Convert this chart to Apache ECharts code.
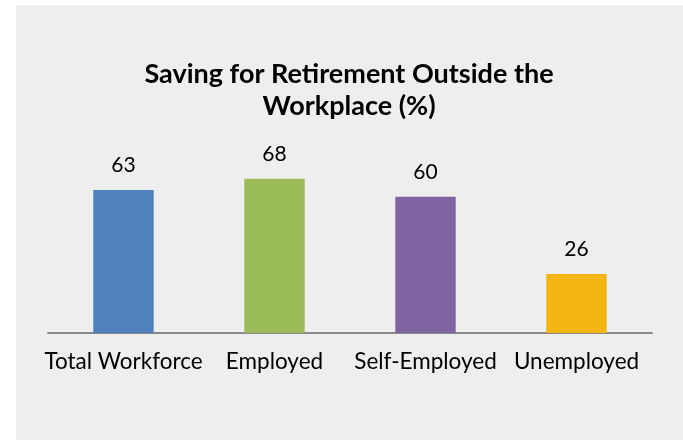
<!DOCTYPE html>
<html>
<head>
<meta charset="utf-8">
<script src="https://cdn.jsdelivr.net/npm/echarts@6/dist/echarts.min.js"></script>
<style>
  html, body { margin: 0; padding: 0; background: #ffffff; }
  #chart { width: 683px; height: 440px; }
</style>
</head>
<body>
<div id="chart"></div>
<script>
  // chart data
  const categories = ['Total Workforce', 'Employed', 'Self-Employed', 'Unemployed']
  const values = [63, 68, 60, 26]
  const barColors = ['#4f81bd', '#9bbb59', '#8064a2', '#f4b512']

  const chart = echarts.init(document.getElementById('chart'))

  const option = {
    backgroundColor: '#ffffff',
    animation: false,
    graphic: [{
      type: 'rect',
      z: -10,
      shape: { x: 16, y: 5, width: 700, height: 460 },
      style: { fill: '#eeeeee' }
    }],
    title: {
      text: 'Saving for Retirement Outside the\nWorkplace (%)',
      left: 344,
      top: 53,
      textAlign: 'center',
      textStyle: {
        fontFamily: 'Lato',
        fontWeight: 'bold',
        fontSize: 27,
        lineHeight: 32,
        color: '#000000'
      }
    },
    grid: { left: 48, right: 31, top: 151.4, bottom: 107 },
    xAxis: {
      type: 'category',
      data: categories,
      axisTick: { show: false },
      axisLine: { lineStyle: { color: '#898989', width: 2 } },
      axisLabel: {
        interval: 0,
        hideOverlap: false,
        margin: 17,
        fontFamily: 'Lato',
        fontSize: 22.5,
        color: '#000000'
      }
    },
    yAxis: {
      type: 'value',
      min: 0,
      max: 80,
      show: false,
      splitLine: { show: false }
    },
    series: [{
      type: 'bar',
      barWidth: '40%',
      data: values.map((v, i) => ({ value: v, itemStyle: { color: barColors[i] } })),
      label: {
        show: true,
        position: 'top',
        distance: 14,
        fontFamily: 'Lato',
        fontSize: 21,
        color: '#000000'
      }
    }]
  }

  chart.setOption(option)
</script>
</body>
</html>
